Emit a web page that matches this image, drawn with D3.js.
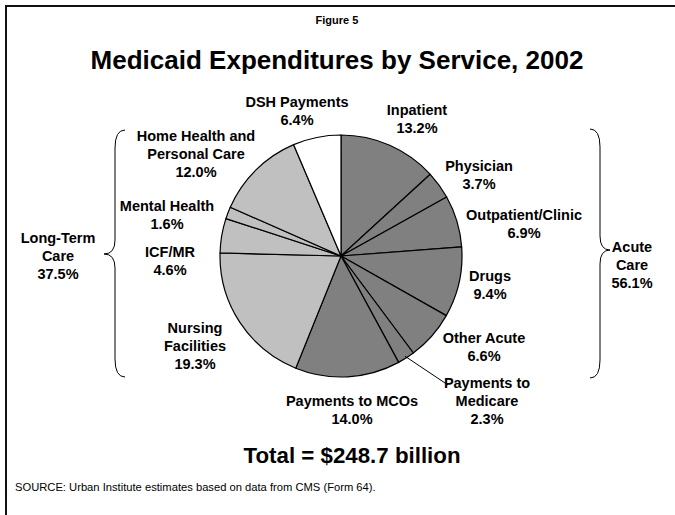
<!DOCTYPE html>
<html>
<head>
<meta charset="utf-8">
<script src="https://cdn.jsdelivr.net/npm/d3@7/dist/d3.min.js"></script>
<style>
  html, body { margin: 0; padding: 0; background: #fff; }
  svg { display: block; }
  text { font-family: "Liberation Sans", Arial, sans-serif; fill: #000; }
</style>
</head>
<body>
<svg id="chart" width="675" height="515"></svg>
<script>
// Service categories, clockwise from 12 o'clock
const services = [
  "Inpatient", "Physician", "Outpatient/Clinic", "Drugs", "Other Acute",
  "Payments to Medicare", "Payments to MCOs", "Nursing Facilities", "ICF/MR",
  "Mental Health", "Home Health and Personal Care", "DSH Payments"
];
// Share of total spending, percent
const shares = [13.2, 3.7, 6.9, 9.4, 6.6, 2.3, 14.0, 19.3, 4.6, 1.6, 12.0, 6.4];
// Grouping of each service
const groups = [
  "acute", "acute", "acute", "acute", "acute", "acute", "acute",
  "ltc", "ltc", "ltc", "ltc", "dsh"
];
// Label lines for each slice
const labelLines = [
  ["Inpatient"], ["Physician"], ["Outpatient/Clinic"], ["Drugs"], ["Other Acute"],
  ["Payments to", "Medicare"], ["Payments to MCOs"], ["Nursing", "Facilities"], ["ICF/MR"],
  ["Mental Health"], ["Home Health and", "Personal Care"], ["DSH Payments"]
];
const groupNames = ["Acute", "Long-Term"];
const groupTotals = [56.1, 37.5];
const totalSpending = 248.7;

const svg = d3.select("#chart");
const W = 675, H = 515;

// frame
svg.append("rect")
  .attr("x", 6).attr("y", 6).attr("width", W + 20).attr("height", H + 20)
  .attr("fill", "none").attr("stroke", "#111").attr("stroke-width", 2);

svg.append("text")
  .attr("x", 337).attr("y", 24).attr("text-anchor", "middle")
  .attr("font-size", 11).attr("font-weight", "bold")
  .text("Figure 5");

svg.append("text")
  .attr("x", 337).attr("y", 69).attr("text-anchor", "middle")
  .attr("font-size", 26).attr("font-weight", "bold")
  .text("Medicaid Expenditures by Service, 2002");

// pie
const cx = 341, cy = 256, R = 121;
const color = d3.scaleOrdinal()
  .domain(["acute", "ltc", "dsh"])
  .range(["#808080", "#c0c0c0", "#ffffff"]);

const data = services.map((s, i) => ({ name: s, value: shares[i], group: groups[i], lines: labelLines[i] }));
const pie = d3.pie().value(d => d.value).sort(null);
const arcs = pie(data);
const arc = d3.arc().innerRadius(0).outerRadius(R);

const g = svg.append("g").attr("transform", `translate(${cx},${cy})`);
g.selectAll("path").data(arcs).join("path")
  .attr("d", arc)
  .attr("fill", d => color(d.data.group))
  .attr("stroke", "#000")
  .attr("stroke-width", 1.2)
  .attr("stroke-linejoin", "round");

// label positions (center x, first line y)
const labelPos = {
  "Inpatient": [417, 115],
  "Physician": [479, 171],
  "Outpatient/Clinic": [524, 220],
  "Drugs": [490, 281],
  "Other Acute": [484, 343],
  "Payments to Medicare": [487, 388],
  "Payments to MCOs": [352, 406],
  "Nursing Facilities": [195, 333],
  "ICF/MR": [170, 257],
  "Mental Health": [167, 211],
  "Home Health and Personal Care": [196, 141],
  "DSH Payments": [297, 107]
};
const lineH = 18;

const labels = svg.append("g").attr("font-size", 14.5).attr("font-weight", "bold");
arcs.forEach(a => {
  const [x, y] = labelPos[a.data.name];
  const t = labels.append("text").attr("text-anchor", "middle");
  const lines = a.data.lines.concat([d3.format(".1f")(a.data.value) + "%"]);
  lines.forEach((ln, k) => {
    t.append("tspan").attr("x", x).attr("y", y + k * lineH).text(ln);
  });
});

// leader line for the small Medicare slice
const med = arcs[5];
const medMid = (med.startAngle + med.endAngle) / 2;
const lp = [cx + Math.sin(medMid) * (R - 2), cy - Math.cos(medMid) * (R - 2)];
svg.append("line")
  .attr("x1", lp[0]).attr("y1", lp[1])
  .attr("x2", 448).attr("y2", 385)
  .attr("stroke", "#000").attr("stroke-width", 1);

// curly braces marking the two groups
function brace(xTip, xMid, xPoint, yTop, yMid, yBot) {
  const p = d3.path();
  p.moveTo(xTip, yTop);
  p.quadraticCurveTo(xMid, yTop, xMid, yTop + 18);
  p.lineTo(xMid, yMid - 14);
  p.quadraticCurveTo(xMid, yMid, xPoint, yMid);
  p.quadraticCurveTo(xMid, yMid, xMid, yMid + 14);
  p.lineTo(xMid, yBot - 18);
  p.quadraticCurveTo(xMid, yBot, xTip, yBot);
  return p.toString();
}
svg.append("path")
  .attr("d", brace(125, 115, 104, 130, 254, 377))
  .attr("fill", "none").attr("stroke", "#000").attr("stroke-width", 1);
svg.append("path")
  .attr("d", brace(590, 600, 610, 129, 250, 378))
  .attr("fill", "none").attr("stroke", "#000").attr("stroke-width", 1);

const groupLabel = (x, y, name, val) => {
  const t = svg.append("text").attr("text-anchor", "middle")
    .attr("font-size", 14.5).attr("font-weight", "bold");
  [name, "Care", d3.format(".1f")(val) + "%"].forEach((ln, k) => {
    t.append("tspan").attr("x", x).attr("y", y + k * lineH).text(ln);
  });
};
groupLabel(58, 243, groupNames[1], groupTotals[1]);
groupLabel(632, 252, groupNames[0], groupTotals[0]);

svg.append("text")
  .attr("x", 352).attr("y", 463).attr("text-anchor", "middle")
  .attr("font-size", 22.3).attr("font-weight", "bold")
  .text(`Total = $${totalSpending} billion`);

svg.append("text")
  .attr("x", 15).attr("y", 491)
  .attr("font-size", 11.2)
  .text("SOURCE: Urban Institute estimates based on data from CMS (Form 64).");
</script>
</body>
</html>
